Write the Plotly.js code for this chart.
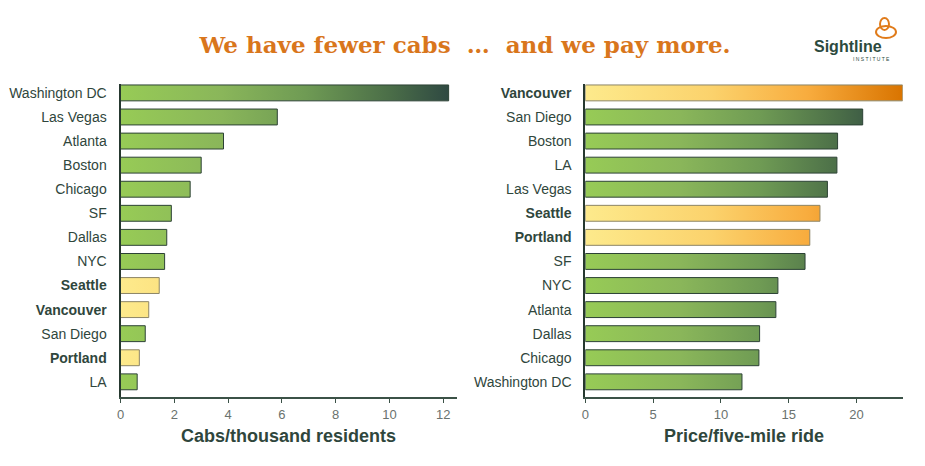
<!DOCTYPE html>
<html>
<head>
<meta charset="utf-8">
<script src="https://cdn.plot.ly/plotly-3.0.1.min.js"></script>
<style>
  html, body { margin: 0; padding: 0; background: #fff; }
  #chart { width: 925px; height: 466px; }
</style>
</head>
<body>
<div id="chart"></div>
<script>
// cabs per thousand residents (left panel, top to bottom)
var cabCities = ['Washington DC', 'Las Vegas', 'Atlanta', 'Boston', 'Chicago', 'SF', 'Dallas',
                 'NYC', 'Seattle', 'Vancouver', 'San Diego', 'Portland', 'LA'];
var cabValues = [12.2, 5.83, 3.83, 3.0, 2.59, 1.89, 1.72, 1.64, 1.44, 1.05, 0.92, 0.70, 0.62];

// price of a five-mile ride (right panel, top to bottom)
var priceCities = ['Vancouver', 'San Diego', 'Boston', 'LA', 'Las Vegas', 'Seattle', 'Portland',
                   'SF', 'NYC', 'Atlanta', 'Dallas', 'Chicago', 'Washington DC'];
var priceValues = [23.4, 20.45, 18.6, 18.55, 17.85, 17.3, 16.55, 16.2, 14.2, 14.05, 12.85, 12.8, 11.55];

var homeCities = ['Seattle', 'Vancouver', 'Portland'];
var cabTicks = [0, 2, 4, 6, 8, 10, 12];
var priceTicks = [0, 5, 10, 15, 20];

var labelColor = '#2f463c';
var axisColor = '#3b5247';

function isHome(c) { return homeCities.indexOf(c) >= 0; }
function labels(list) {
  return list.map(function (c) { return isHome(c) ? '<b>' + c + '</b>' : c; });
}
function baseColors(list) {
  return list.map(function (c) { return isHome(c) ? '#fbd66e' : '#7fae55'; });
}
function lineColors(list) {
  return list.map(function (c) { return isHome(c) ? '#8c8566' : '#2c4235'; });
}

var traceCabs = {
  type: 'bar', orientation: 'h',
  x: cabValues, y: cabCities,
  xaxis: 'x', yaxis: 'y',
  width: 0.66,
  marker: { color: baseColors(cabCities), line: { color: lineColors(cabCities), width: 1 } },
  hoverinfo: 'x+y'
};
var tracePrice = {
  type: 'bar', orientation: 'h',
  x: priceValues, y: priceCities,
  xaxis: 'x2', yaxis: 'y2',
  width: 0.66,
  marker: { color: baseColors(priceCities), line: { color: lineColors(priceCities), width: 1 } },
  hoverinfo: 'x+y'
};

var W = 925, H = 466;
function px(v) { return v / W; }
function py(v) { return 1 - v / H; }

function xAxis(dom, range, ticks, title) {
  return {
    domain: dom, range: range, fixedrange: true,
    tickvals: ticks, ticks: 'outside', ticklen: 4, tickcolor: axisColor, tickwidth: 1,
    showline: true, linecolor: axisColor, linewidth: 2,
    showgrid: false, zeroline: false,
    tickfont: { family: 'Liberation Sans, Arial, sans-serif', size: 13, color: '#6a726e' },
    title: { text: '<b>' + title + '</b>', standoff: 9,
             font: { family: 'Liberation Sans, Arial, sans-serif', size: 18, color: labelColor } }
  };
}
function yAxis(cities, anchor) {
  return {
    domain: [py(397), py(84)], anchor: anchor,
    type: 'category', categoryorder: 'array', categoryarray: cities,
    range: [12.63, -0.37], fixedrange: true,
    tickvals: cities, ticktext: labels(cities), ticks: '', ticklabelstandoff: 9,
    showline: true, linecolor: '#26382f', linewidth: 2,
    showgrid: false, zeroline: false,
    tickfont: { family: 'Liberation Sans, Arial, sans-serif', size: 14, color: labelColor }
  };
}

var layout = {
  width: W, height: H,
  margin: { l: 0, r: 0, t: 0, b: 0 },
  paper_bgcolor: '#fff', plot_bgcolor: '#fff',
  showlegend: false,
  bargap: 0.34,
  title: {
    text: '<b>We have fewer cabs  \u2026  and we pay more.</b>',
    x: px(465), xanchor: 'center', y: py(45), yanchor: 'middle', yref: 'container',
    font: { family: 'DejaVu Serif, Liberation Serif, serif', size: 23, color: '#d9761c' }
  },
  xaxis: xAxis([px(120.5), px(456.7)], [0, 12.5], cabTicks, 'Cabs/thousand residents'),
  yaxis: yAxis(cabCities, 'x'),
  xaxis2: xAxis([px(585.3), px(902.7)], [0, 23.4], priceTicks, 'Price/five-mile ride'),
  yaxis2: yAxis(priceCities, 'x2'),
  annotations: [
    { text: '<b>Sightline</b>', xref: 'paper', yref: 'paper', x: px(848), y: py(46),
      xanchor: 'center', yanchor: 'middle', showarrow: false,
      font: { family: 'Liberation Sans, Arial, sans-serif', size: 16, color: '#2c4a3e' } },
    { text: 'I N S T I T U T E', xref: 'paper', yref: 'paper', x: px(871), y: py(59),
      xanchor: 'center', yanchor: 'middle', showarrow: false,
      font: { family: 'Liberation Sans, Arial, sans-serif', size: 5, color: '#2c4a3e' } }
  ],
  shapes: [
    { type: 'circle', xref: 'paper', yref: 'paper', x0: px(880), x1: px(889), y0: py(30), y1: py(18),
      line: { color: '#e07b1a', width: 2 } },
    { type: 'circle', xref: 'paper', yref: 'paper', x0: px(876), x1: px(896), y0: py(38), y1: py(26),
      line: { color: '#e07b1a', width: 2 } }
  ]
};

Plotly.newPlot('chart', [traceCabs, tracePrice], layout, { displayModeBar: false, staticPlot: true })
  .then(function (gd) {
    // bars fade along the value axis, as in the original graphic
    var svg = gd.querySelector('.main-svg');
    var ns = 'http://www.w3.org/2000/svg';
    var defs = document.createElementNS(ns, 'defs');
    svg.insertBefore(defs, svg.firstChild);

    var stopsGreen = [[0, '#97cb56'], [0.3, '#8ab65a'], [0.55, '#6f9b54'], [0.8, '#4b6e48'], [1, '#2b4441']];
    var stopsGold = [[0, '#fdea8c'], [0.4, '#fbd26c'], [0.7, '#f8ac3e'], [1, '#d97400']];

    function makeGrad(id, stops, len) {
      var g = document.createElementNS(ns, 'linearGradient');
      g.setAttribute('id', id);
      g.setAttribute('gradientUnits', 'userSpaceOnUse');
      g.setAttribute('x1', 0); g.setAttribute('x2', len);
      g.setAttribute('y1', 0); g.setAttribute('y2', 0);
      stops.forEach(function (s) {
        var st = document.createElementNS(ns, 'stop');
        st.setAttribute('offset', s[0]);
        st.setAttribute('stop-color', s[1]);
        g.appendChild(st);
      });
      defs.appendChild(g);
    }

    var fl = gd._fullLayout;
    [['xy', fl.xaxis._length, cabCities], ['x2y2', fl.xaxis2._length, priceCities]].forEach(function (p) {
      makeGrad('green-' + p[0], stopsGreen, p[1]);
      makeGrad('gold-' + p[0], stopsGold, p[1]);
      var pts = gd.querySelectorAll('.subplot.' + p[0] + ' .barlayer .point path');
      pts.forEach(function (path, i) {
        var id = (isHome(p[2][i]) ? 'gold-' : 'green-') + p[0];
        path.style.fill = 'url(#' + id + ')';
      });
    });
  });
</script>
</body>
</html>
